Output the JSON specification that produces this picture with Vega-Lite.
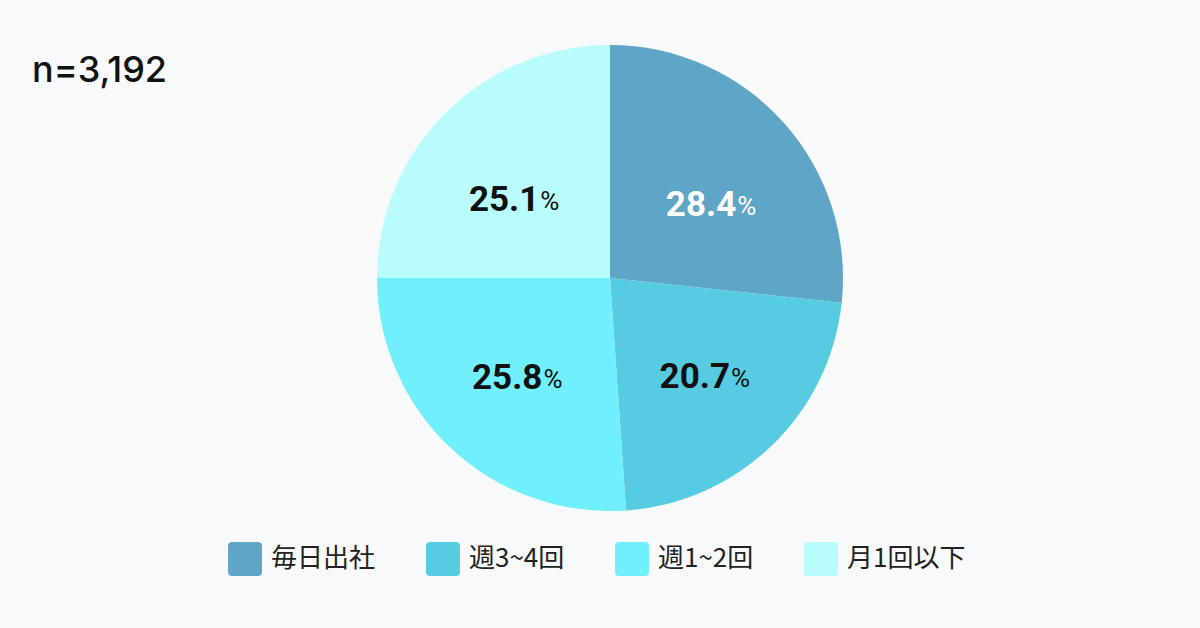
{
  "$schema": "https://vega.github.io/schema/vega-lite/v6.json",
  "autosize": {"type": "none"},
  "padding": {"left": 377, "top": 45, "right": 357, "bottom": 117},
  "width": 466,
  "height": 466,
  "background": "#f8f9fb",
  "config": {"view": {"stroke": null}},
  "title": {
    "text": "n=3,192",
    "anchor": "start",
    "frame": "group",
    "orient": "top",
    "offset": 0,
    "dx": -345,
    "dy": 73,
    "baseline": "alphabetic",
    "font": "Inter",
    "fontSize": 36,
    "fontWeight": 500,
    "color": "#111111"
  },
  "data": {
    "values": [
      {"category": "毎日出社", "value": 26.7, "num": "28.4", "ord": 1},
      {"category": "週3~4回", "value": 22.2, "num": "20.7", "ord": 2},
      {"category": "週1~2回", "value": 26.1, "num": "25.8", "ord": 3},
      {"category": "月1回以下", "value": 25.0, "num": "25.1", "ord": 4}
    ]
  },
  "encoding": {
    "theta": {"field": "value", "type": "quantitative", "stack": true},
    "order": {"field": "ord", "type": "quantitative"}
  },
  "layer": [
    {
      "mark": {"type": "arc", "stroke": null},
      "encoding": {
        "color": {
          "field": "category",
          "type": "nominal",
          "sort": ["毎日出社", "週3~4回", "週1~2回", "月1回以下"],
          "scale": {
            "domain": ["毎日出社", "週3~4回", "週1~2回", "月1回以下"],
            "range": ["#5fa5c6", "#56cbe2", "#72effc", "#b8fcfb"]
          },
          "legend": {
            "title": null,
            "orient": "none",
            "direction": "horizontal",
            "legendX": -149,
            "legendY": 497,
            "symbolType": "M-1,-0.76 Q-1,-1 -0.76,-1 L0.76,-1 Q1,-1 1,-0.76 L1,0.76 Q1,1 0.76,1 L-0.76,1 Q-1,1 -1,0.76 Z",
            "symbolSize": 1150,
            "symbolStrokeWidth": 0,
            "symbolOpacity": 1,
            "labelFont": "Noto Sans CJK JP",
            "labelFontSize": 26,
            "labelColor": "#222222",
            "labelOffset": 9,
            "columnPadding": 50,
            "labelLimit": 300
          }
        }
      }
    },
    {
      "mark": {"type": "text", "radius": 124, "align": "right", "baseline": "middle", "dx": 34, "dy": 9.5, "font": "Roboto", "fontSize": 35, "fontWeight": "bold"},
      "encoding": {
        "text": {"condition": {"test": "datum.ord <= 2", "field": "num"}, "value": ""},
        "color": {
          "condition": {"test": "datum.ord === 1", "value": "#ffffff"},
          "value": "#111111"
        }
      }
    },
    {
      "mark": {"type": "text", "radius": 124, "align": "left", "baseline": "middle", "dx": 35, "dy": 11.5, "font": "Roboto", "fontSize": 26},
      "encoding": {
        "text": {"condition": {"test": "datum.ord <= 2", "value": "%"}, "value": ""},
        "color": {
          "condition": {"test": "datum.ord === 1", "value": "#ffffff"},
          "value": "#111111"
        }
      }
    },
    {
      "mark": {"type": "text", "radius": 124, "align": "right", "baseline": "middle", "dx": 17, "dy": 9.5, "font": "Roboto", "fontSize": 35, "fontWeight": "bold", "color": "#111111"},
      "encoding": {
        "text": {"condition": {"test": "datum.ord > 2", "field": "num"}, "value": ""}
      }
    },
    {
      "mark": {"type": "text", "radius": 124, "align": "left", "baseline": "middle", "dx": 18, "dy": 11.5, "font": "Roboto", "fontSize": 26, "color": "#111111"},
      "encoding": {
        "text": {"condition": {"test": "datum.ord > 2", "value": "%"}, "value": ""}
      }
    }
  ]
}
